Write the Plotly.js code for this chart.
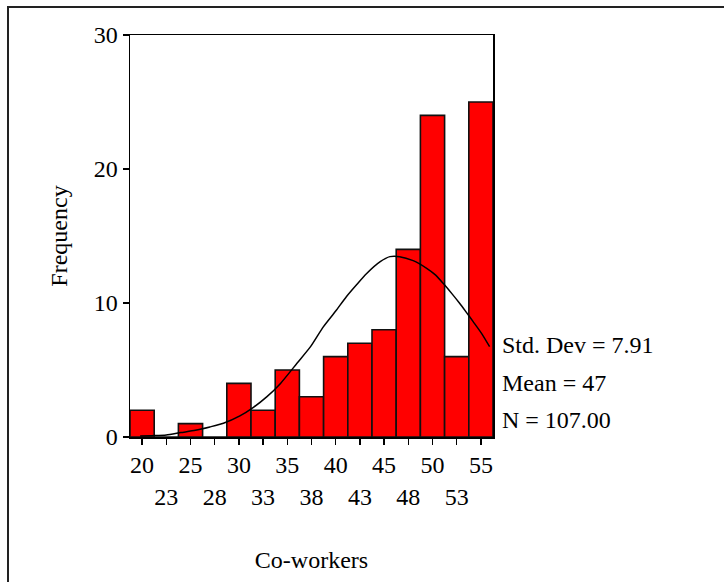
<!DOCTYPE html>
<html>
<head>
<meta charset="utf-8">
<script src="https://cdn.plot.ly/plotly-3.0.1.min.js"></script>
<style>
  html, body { margin: 0; padding: 0; background: #fff; }
  #wrap { position: relative; width: 724px; height: 582px; overflow: hidden; }
  #chart { position: absolute; left: 0; top: 0; width: 724px; height: 582px; }
  #frame { position: absolute; left: 7px; top: 6px; width: 800px; height: 800px;
           border-top: 2px solid #222; border-left: 2px solid #222; pointer-events: none; }
</style>
</head>
<body>
<div id="wrap">
  <div id="chart"></div>
  <div id="frame"></div>
</div>
<script>
// Histogram bins (bin centres) and counts
const binCenters = [20, 22.5, 25, 27.5, 30, 32.5, 35, 37.5, 40, 42.5, 45, 47.5, 50, 52.5, 55];
const counts     = [2, 0, 1, 0, 4, 2, 5, 3, 6, 7, 8, 14, 24, 6, 25];
const tickLabels = ["20", "23", "25", "28", "30", "33", "35", "38", "40", "43", "45", "48", "50", "53", "55"];

// Normal curve points
const curveX = [19.8, 21.0, 22.5, 24.0, 25.5, 27.0, 28.4, 30.1, 31.5, 32.9, 34.3, 36.0, 37.4, 38.7, 40.0, 41.1,
                42.2, 43.2, 44.6, 45.6, 46.6, 48.0, 49.4, 50.3, 51.1, 52.0, 52.8, 53.5, 54.2, 55.1, 55.9];
const curveY = [0.07, 0.10, 0.15, 0.33, 0.50, 0.75, 1.02, 1.57, 2.21, 3.01, 4.00, 5.50, 6.74, 8.20, 9.40, 10.47,
                11.40, 12.20, 13.08, 13.46, 13.46, 13.16, 12.59, 12.10, 11.47, 10.70, 9.98, 9.30, 8.61, 7.70, 6.74];

const statLines = ["Std. Dev = 7.91", "Mean = 47", "N = 107.00"];
const statY = [6.87, 4.03, 1.27];

const FONT = "Liberation Serif, Times New Roman, serif";
const FS = 24;

const ticktext = tickLabels.map((t, i) => (i % 2 === 0 ? t : "<br>" + t));

const traces = [
  {
    type: "bar",
    x: binCenters,
    y: counts,
    width: binCenters.map(() => 2.5),
    marker: { color: "#FF0000", line: { color: "#111", width: 1.6 } },
    hoverinfo: "x+y",
    showlegend: false
  },
  {
    type: "scatter",
    mode: "lines",
    x: curveX,
    y: curveY,
    line: { color: "#000", width: 1.5, shape: "spline", smoothing: 0.6 },
    hoverinfo: "skip",
    showlegend: false
  }
];

const layout = {
  width: 724,
  height: 582,
  margin: { l: 130, r: 231, t: 35, b: 145, pad: 0 },
  paper_bgcolor: "rgba(0,0,0,0)",
  plot_bgcolor: "#fff",
  font: { family: FONT, color: "#000", size: FS },
  bargap: 0,
  xaxis: {
    range: [18.75, 56.25],
    tickmode: "array",
    tickvals: binCenters,
    ticktext: ticktext,
    tickangle: 0,
    ticks: "outside",
    ticklen: 6,
    tickwidth: 1.3,
    tickcolor: "#000",
    showline: true,
    linecolor: "#000",
    linewidth: 1.5,
    mirror: true,
    showgrid: false,
    zeroline: false,
    tickfont: { family: FONT, size: FS, color: "#000" },
    title: { text: "Co-workers", font: { family: FONT, size: FS, color: "#000" }, standoff: 42 }
  },
  yaxis: {
    range: [0, 30],
    tickvals: [0, 10, 20, 30],
    ticks: "outside",
    ticklen: 6,
    tickwidth: 1.3,
    tickcolor: "#000",
    showline: true,
    linecolor: "#000",
    linewidth: 1.5,
    mirror: true,
    showgrid: false,
    zeroline: false,
    tickfont: { family: FONT, size: FS, color: "#000" },
    title: { text: "Frequency", font: { family: FONT, size: FS, color: "#000" }, standoff: 19 }
  },
  annotations: statLines.map((t, i) => ({
    text: t,
    xref: "paper",
    x: 1.019,
    xanchor: "left",
    yref: "y",
    y: statY[i],
    yanchor: "middle",
    showarrow: false,
    font: { family: FONT, size: FS, color: "#000" }
  }))
};

Plotly.newPlot("chart", traces, layout, { displayModeBar: false, staticPlot: true });
</script>
</body>
</html>
